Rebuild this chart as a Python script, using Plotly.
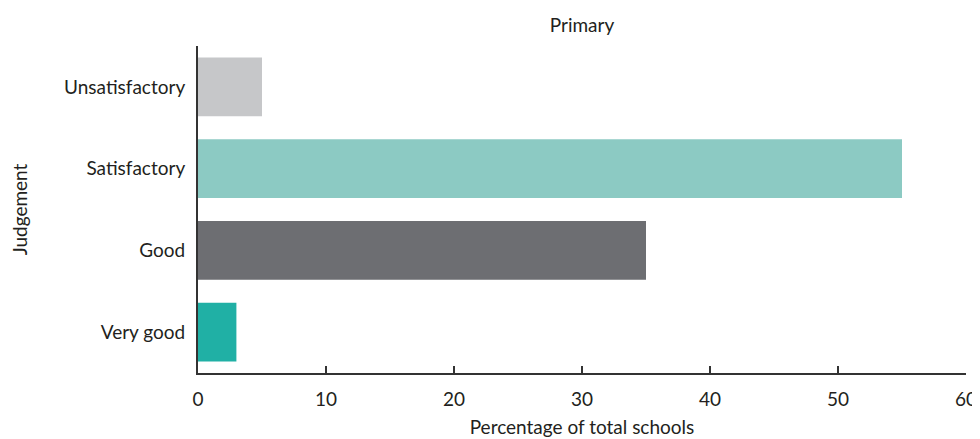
import plotly.graph_objects as go

categories = ["Unsatisfactory", "Satisfactory", "Good", "Very good"]
values = [5, 55, 35, 3]
colors = ["#c6c7c9", "#8ccac3", "#6d6e72", "#20b0a5"]
x_ticks = [0, 10, 20, 30, 40, 50, 60]

font_family = "Lato, 'Open Sans', sans-serif"
text_color = "#231f20"

W, H = 972, 431  # page body has an 8px default margin
L, R, T, B = 190, 14, 38, 66

fig = go.Figure(
    go.Bar(
        x=values,
        y=categories,
        orientation="h",
        marker=dict(color=colors, line=dict(width=0)),
        width=0.72,
        showlegend=False,
    )
)

fig.update_layout(
    width=W,
    height=H,
    margin=dict(l=L, r=R, t=T, b=B, autoexpand=False),
    paper_bgcolor="white",
    plot_bgcolor="white",
    font=dict(family=font_family, size=19, color=text_color),
    title=dict(
        text="Primary",
        x=(L + (W - R)) / 2 / W,
        xanchor="center",
        y=1 - 17 / H,
        yanchor="middle",
        font=dict(size=19, color=text_color),
    ),
)

fig.update_xaxes(
    range=[0, 60],
    tickvals=x_ticks,
    ticktext=[str(v) for v in x_ticks],
    ticks="inside",
    ticklen=7,
    tickwidth=2,
    tickcolor="#333333",
    showline=True,
    linecolor="#333333",
    linewidth=2,
    showgrid=False,
    zeroline=False,
    automargin=False,
    ticklabelstandoff=8,
    title=dict(text="Percentage of total schools", standoff=12, font=dict(size=19)),
)

fig.update_yaxes(
    categoryorder="array",
    categoryarray=list(reversed(categories)),
    range=[-0.5, 3.5],
    showline=True,
    linecolor="#333333",
    linewidth=2,
    ticks="",
    showgrid=False,
    zeroline=False,
    automargin=False,
    ticklabelstandoff=7,
    title=dict(text="Judgement", standoff=42, font=dict(size=19)),
)

fig.write_html("out.html")
